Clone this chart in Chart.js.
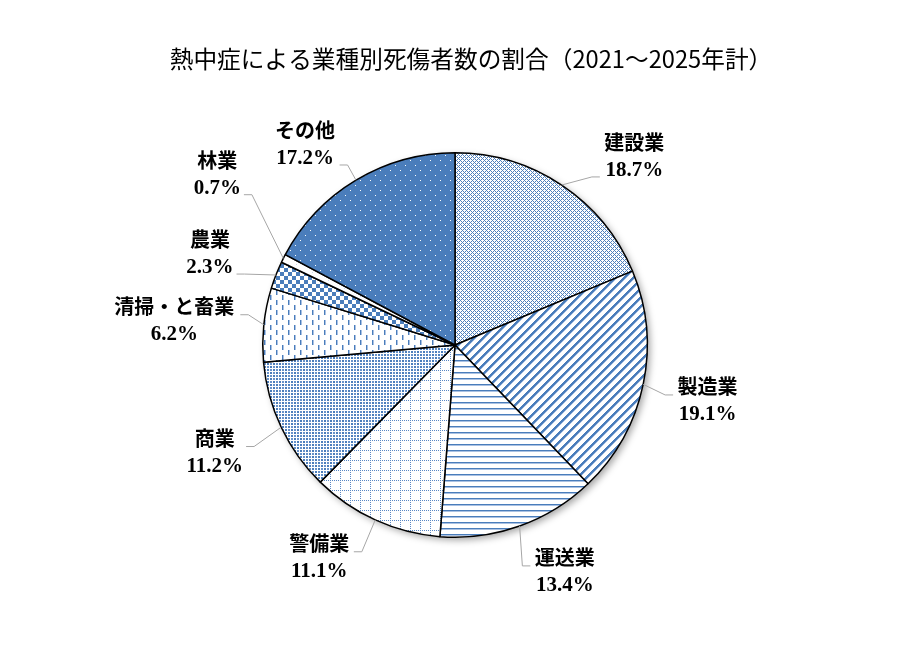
<!DOCTYPE html>
<html><head><meta charset="utf-8">
<script src="https://cdn.jsdelivr.net/npm/chart.js@4.4.1/dist/chart.umd.min.js"></script>
<style>html,body{margin:0;padding:0;background:#fff}#wrap{width:899px;height:671px;position:relative}</style>
</head><body><div id="wrap"><canvas id="c"></canvas></div>
<script>
const categories = ['建設業','製造業','運送業','警備業','商業','清掃・と畜業','農業','林業','その他'];
const shares = [18.7,19.1,13.4,11.1,11.2,6.2,2.3,0.7,17.2];
const valueLabels = ['18.7%','19.1%','13.4%','11.1%','11.2%','6.2%','2.3%','0.7%','17.2%'];
const chartTitle = '熱中症による業種別死傷者数の割合（2021～2025年計）';
// label placement relative to each slice: angle nudge (deg), distance (x radius), leader attach line
const labelNudgeDeg = [10.1,0.9,-6.1,7.9,1.0,-1.3,-1.2,8.7,-6.0];
const labelDist = [1.348,1.347,1.316,1.317,1.371,1.465,1.358,1.518,1.296];
const leaderLine = [1,0,0,0,0,0,1,1,1];

const BLUE='#4a7dbb', LIGHT='#a9c1e3';
function tile(w,h,bg,fn){const c=document.createElement('canvas');c.width=w;c.height=h;const g=c.getContext('2d');g.fillStyle=bg;g.fillRect(0,0,w,h);fn(g,w,h);return c;}
function dot(g,x,y,col,w,h){g.fillStyle=col;g.fillRect(x,y,w||1,h||1);}
const ctx0=document.getElementById('c').getContext('2d');
const tiles=[
  tile(4,4,'#fff',(g,w,h)=>{for(let y=0;y<h;y++)for(let x=0;x<w;x++){if((x+y)%4===0||(x-y+4)%4===0)dot(g,x,y,'#4f80bd');}}),
  tile(9,9,'#fff',(g,w,h)=>{for(let y=0;y<h;y++)for(let x=0;x<w;x++){const m=(x+y)%9;if(m<3)dot(g,x,y,BLUE);else if(m===3)dot(g,x,y,LIGHT);}}),
  tile(1,6,'#fff',(g)=>{dot(g,0,0,BLUE);dot(g,0,1,LIGHT);}),
  tile(10,10,'#fff',(g)=>{for(let i=0;i<10;i+=2){dot(g,i,0,'#5a88c4');dot(g,0,i,'#5a88c4');}}),
  tile(6,6,'#fff',(g)=>{dot(g,0,0,BLUE,2,2);dot(g,3,3,BLUE,2,2);dot(g,3,0,'#6892ca',2,2);dot(g,0,3,'#6892ca',2,2);}),
  tile(12,10,'#fff',(g)=>{dot(g,0,0,BLUE,1,5);dot(g,1,0,LIGHT,1,5);dot(g,6,5,BLUE,1,5);dot(g,7,5,LIGHT,1,5);}),
  tile(8,8,'#fff',(g)=>{dot(g,0,0,BLUE,4,4);dot(g,4,4,BLUE,4,4);}),
  tile(8,8,'#fff',(g)=>{dot(g,0,0,'#c9d8ee');}),
  tile(10,10,BLUE,(g)=>{dot(g,0,0,'#fff');dot(g,5,5,'#fff');})
];
const fills=tiles.map(t=>ctx0.createPattern(t,'repeat'));

const shadowPlugin={id:'pieShadow',beforeDatasetsDraw(chart){
  const a=chart.getDatasetMeta(0).data[0];if(!a)return;
  const c=chart.ctx;c.save();
  c.shadowColor='rgba(0,0,0,0.35)';c.shadowBlur=7;c.shadowOffsetX=3;c.shadowOffsetY=3;
  c.fillStyle='#fff';c.beginPath();c.arc(a.x,a.y,a.outerRadius,0,Math.PI*2);c.fill();c.restore();
}};
const labelPlugin={id:'pieLabels',afterDatasetsDraw(chart){
  const c=chart.ctx;const meta=chart.getDatasetMeta(0);
  c.save();
  c.font='bold 21px "Liberation Serif","Noto Sans CJK JP",serif';
  c.textAlign='center';c.textBaseline='middle';
  meta.data.forEach((arc,i)=>{
    const mid=(arc.startAngle+arc.endAngle)/2;
    const R=arc.outerRadius;
    const la=mid+labelNudgeDeg[i]*Math.PI/180;
    const lx=arc.x+Math.cos(la)*R*labelDist[i];
    const ly=arc.y+Math.sin(la)*R*labelDist[i];
    const y0=ly-13,y1=ly+13;
    const w=Math.max(c.measureText(categories[i]).width,c.measureText(valueLabels[i]).width);
    const px0=arc.x+Math.cos(mid)*R, py0=arc.y+Math.sin(mid)*R;
    const ay=(leaderLine[i]?y1:y0)+6;
    const rightSide=lx<arc.x;
    const sx=rightSide?lx+w/2+3:lx-w/2-3;
    const kx=rightSide?sx+8:sx-8;
    c.strokeStyle='#a6a6a6';c.lineWidth=1;
    c.beginPath();c.moveTo(px0,py0);c.lineTo(kx,ay);c.lineTo(sx,ay);c.stroke();
    c.fillStyle='#000';
    c.font='bold 20px "Liberation Serif","Noto Sans CJK JP",serif';
    c.fillText(categories[i],lx,y0);
    c.font='bold 21px "Liberation Serif","Noto Sans CJK JP",serif';
    c.fillText(valueLabels[i],lx,y1);
  });
  c.restore();
}};
const titlePlugin={id:'titleText',afterDraw(chart){
  const c=chart.ctx;c.save();
  c.font='23.7px "Noto Sans CJK JP",sans-serif';c.fillStyle='#000';
  c.textAlign='center';c.textBaseline='middle';
  c.fillText(chartTitle,471,59);c.restore();
}};

new Chart(document.getElementById('c'),{
  type:'pie',
  data:{labels:categories,datasets:[{data:shares,backgroundColor:fills,borderColor:'#000',borderWidth:1.5,hoverOffset:0}]},
  options:{responsive:true,maintainAspectRatio:false,animation:false,
    layout:{padding:{left:262,right:251,top:152,bottom:133}},
    plugins:{legend:{display:false},tooltip:{enabled:false},title:{display:false}},
    events:[]},
  plugins:[shadowPlugin,labelPlugin,titlePlugin]
});
</script></body></html>
